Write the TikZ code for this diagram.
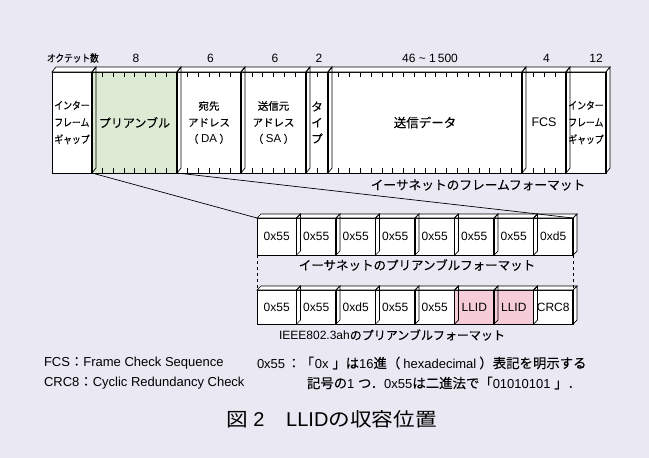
\documentclass[tikz,border=0pt]{standalone}
\usepackage{fontspec}
\setmainfont{Liberation Sans}
\newfontfamily\jp[FakeBold=0.15]{Noto Sans CJK JP}
\newfontfamily\jpnarrow[FakeStretch=0.84,FakeBold=0.15]{Noto Sans CJK JP}
\newfontfamily\jpwide[FakeStretch=1.14]{Noto Sans CJK JP}
\newcommand\J[1]{{\jp #1}}
\newcommand\JN[1]{{\jp\fsz{13.4}{15}#1}}
\newcommand\LT[1]{{\normalfont\fsz{11.5}{16.5}\hspace{2.5pt}#1\hspace{2.5pt}}}
\newcommand\fsz[2]{\fontsize{#1}{#2}\selectfont}
\usetikzlibrary{calc}
\definecolor{bgc}{RGB}{234,232,242}
\definecolor{preg}{RGB}{221,235,213}
\definecolor{llidp}{RGB}{246,204,216}
\begin{document}
\begin{tikzpicture}[x=1pt,y=-1pt,
  bigbox/.style={draw=black,line width=0.7pt,fill=white,minimum width=#1,
    minimum height=101pt,anchor=north west,inner sep=0pt,outer sep=0pt},
  smallbox/.style={draw=black,line width=0.7pt,fill=white,minimum width=39.5pt,
    minimum height=#1,anchor=north west,inner sep=0pt,outer sep=0pt,
    font=\fsz{12}{14}},
  face/.style={draw=black,line width=0.7pt},
  sep/.style={draw=black,line width=1.6pt},
  tick/.style={draw=black,line width=0.6pt},
  lab/.style={inner sep=0pt,outer sep=0pt},
  conn/.style={draw=black,line width=0.7pt},
  dashline/.style={draw=black,line width=0.7pt,dash pattern=on 3pt off 3pt}
]
\fill[bgc] (0,0) rectangle (649,458);
\useasboundingbox (0,0) rectangle (649,458);

% ---------- frame format ----------
\node[bigbox=40pt,align=left,font=\jpnarrow\fsz{10.5}{17}] (g1) at (52,72) {インター\\フレーム\\ギャップ};
\node[bigbox=85pt,fill=preg,font=\jp\fsz{12}{14}] (pre) at (92,72) {プリアンブル};
\node[bigbox=64pt,align=center,font=\jp\fsz{10.5}{16.5}] (da) at (177,72) {宛先\\アドレス\\（\LT{DA}）};
\node[bigbox=65pt,align=center,font=\jp\fsz{10.5}{16.5}] (sa) at (241,72) {送信元\\アドレス\\（\LT{SA}）};
\node[bigbox=22pt,align=center,font=\jp\fsz{11.5}{16}] (ty) at (306,72) {タ\\イ\\プ};
\node[bigbox=194pt,font=\jp\fsz{12.5}{14}] (dt) at (328,72) {送信データ};
\node[bigbox=44pt,font=\fsz{12.5}{14}] (fcs) at (522,72) {FCS};
\node[bigbox=40pt,align=left,font=\jpnarrow\fsz{10.5}{17}] (g2) at (566,72) {インター\\フレーム\\ギャップ};

% ticks
\foreach \n/\k in {pre/8,da/6,sa/6,ty/2,dt/18,fcs/4}{
  \pgfmathtruncatemacro\km{\k-1}
  \foreach \i in {1,...,\km}{
    \draw[tick] ($(\n.north west)!\i/\k!(\n.north east)$) -- ++(0,5);
    \draw[tick] ($(\n.south west)!\i/\k!(\n.south east)$) -- ++(0,-5);
  }
}
% 3D faces
\foreach \n in {g1,pre,da,sa,ty,dt,fcs,g2}{
  \draw[face,fill=white] (\n.north west) -- ++(4,-5) -- ($(\n.north east)+(4,-5)$) -- (\n.north east) -- cycle;
}
\foreach \n in {g1,pre,da,sa,ty,dt,fcs}{
  \draw[face] (\n.north east) -- ++(4,-5) -- ($(\n.south east)+(4,-5)$) -- (\n.south east);
}
\draw[face,fill=white] (g2.north east) -- ++(4,-5) -- ($(g2.south east)+(4,-5)$) -- (g2.south east) -- cycle;
\foreach \n in {g1,pre,da,sa,ty,dt,fcs,g2}{
  \draw[sep] (\n.north east) -- (\n.south east);
}

% column headings
\node[lab,anchor=west,font=\jpnarrow\fsz{10.3}{12}] (oct) at (47,58) {オクテット数};
\node[lab,font=\fsz{12}{13}] (n1) at (136,58) {8};
\node[lab,font=\fsz{12}{13}] (n2) at (210.5,58) {6};
\node[lab,font=\fsz{12}{13}] (n3) at (275,58) {6};
\node[lab,font=\fsz{12}{13}] (n4) at (319,58) {2};
\node[lab,font=\fsz{12}{13}] (n5) at (430,58) {46 \textasciitilde\ 1\,500};
\node[lab,font=\fsz{12}{13}] (n6) at (546.5,58) {4};
\node[lab,font=\fsz{12}{13}] (n7) at (596,58) {12};

\node[lab,font=\jp\fsz{12.7}{14}] (flab) at (478,185) {イーサネットのフレームフォーマット};

% ---------- preamble rows ----------
\foreach \i/\t in {1/0x55,2/0x55,3/0x55,4/0x55,5/0x55,6/0x55,7/0x55,8/0xd5}{
  \node[smallbox=37pt] (ra\i) at ({257+39.5*(\i-1)},218) {\t};
}
\foreach \i/\t/\c in {1/0x55/white,2/0x55/white,3/0xd5/white,4/0x55/white,5/0x55/white,6/LLID/llidp,7/LLID/llidp,8/CRC8/white}{
  \node[smallbox=34pt,fill=\c] (rb\i) at ({257+39.5*(\i-1)},290) {\t};
}
\foreach \r in {ra,rb}{
  \foreach \i in {1,...,8}{
    \draw[face,fill=white] (\r\i.north west) -- ++(4,-4) -- ($(\r\i.north east)+(4,-4)$) -- (\r\i.north east) -- cycle;
  }
  \foreach \i in {1,...,7}{
    \draw[face] (\r\i.north east) -- ++(4,-4) -- ($(\r\i.south east)+(4,-4)$) -- (\r\i.south east);
  }
  \draw[face,fill=white] (\r8.north east) -- ++(4,-4) -- ($(\r8.south east)+(4,-4)$) -- (\r8.south east) -- cycle;
  \foreach \i in {1,...,8}{
    \draw[sep] (\r\i.north east) -- (\r\i.south east);
  }
}

% connectors
\draw[conn] (pre.south west) -- (ra1.north west);
\draw[conn] (pre.south east) -- (ra8.north east);
\draw[dashline] (ra1.south west) -- (rb1.north west);
\draw[dashline] (ra8.south east) -- (rb8.north east);

\node[lab,font=\jp\fsz{12.5}{14}] (alab) at (417,265) {イーサネットのプリアンブルフォーマット};
\node[lab,font=\fsz{12}{14}] (blab) at (392,335) {IEEE802.3ah\J{のプリアンブルフォーマット}};

% ---------- notes ----------
\node[lab,anchor=west,font=\fsz{13}{15}] (note1) at (44,363) {FCS\JN{：}Frame Check Sequence};
\node[lab,anchor=west,font=\fsz{13}{15}] (note2) at (44,383) {CRC8\JN{：}Cyclic Redundancy Check};
\node[lab,anchor=west,font=\fsz{13}{15}] (note3) at (257,363) {0x55\hspace{2pt}\JN{：「}\hspace{1pt}0x \JN{」は}16\JN{進（}\hspace{3pt}hexadecimal\hspace{3pt}\JN{）表記を明示する}};
\node[lab,anchor=west,font=\fsz{13}{15}] (note4) at (307,383) {\JN{記号の}1 \JN{つ．}0x55\JN{は二進法で「}01010101 \JN{」．}};

% caption
\node[lab,font=\fsz{20}{22}] (cap) at (331.5,419) {{\jpwide\fsz{19}{22}図} 2{\jpwide\fsz{19}{22}　}LLID{\jpwide\fsz{19}{22}の収容位置}};
\end{tikzpicture}
\end{document}
